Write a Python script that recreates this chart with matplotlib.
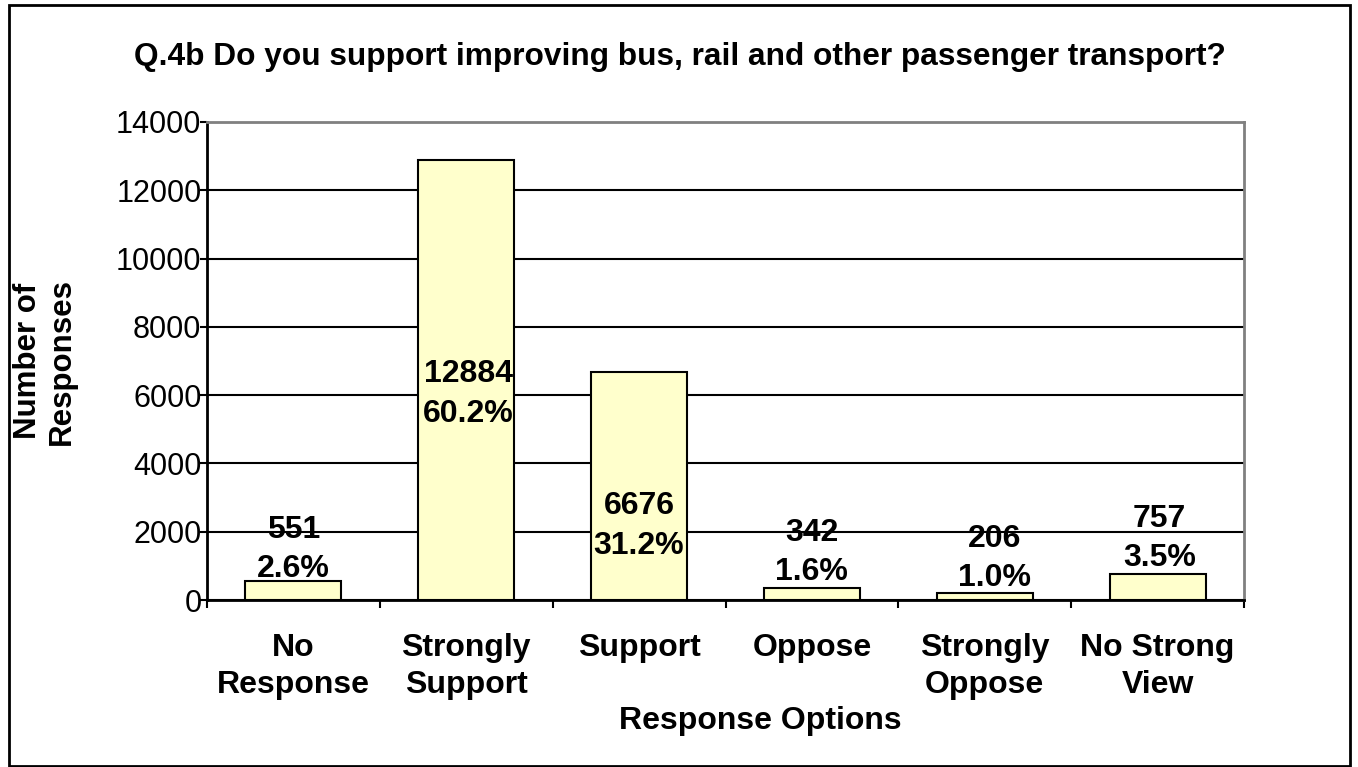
import matplotlib
matplotlib.use("Agg")
import matplotlib.pyplot as plt
from matplotlib.patches import Rectangle
from matplotlib.ticker import FixedLocator, MultipleLocator

plt.rcParams["font.family"] = ["Liberation Sans", "DejaVu Sans"]

TITLE = "Q.4b Do you support improving bus, rail and other passenger transport?"
categories = ["No\nResponse", "Strongly\nSupport", "Support", "Oppose",
              "Strongly\nOppose", "No Strong\nView"]
responses = [551, 12884, 6676, 342, 206, 757]
percents = ["2.6%", "60.2%", "31.2%", "1.6%", "1.0%", "3.5%"]

# label placement: (dx, dy) in pixels; inside labels hang from the bar middle
label_nudge = [(0, -3), (2, -14), (0, -40), (0, 1), (10, 0), (2, 1)]

W, H, DPI = 1358, 767, 100
fig = plt.figure(figsize=(W / DPI, H / DPI), dpi=DPI, facecolor="white")
ax = fig.add_axes([207 / W, 1 - 600 / H, (1244 - 207) / W, (600 - 122) / H])

xs = list(range(len(categories)))
ax.bar(xs, responses, width=0.556, color="#FFFFCC", edgecolor="black",
       linewidth=1.5, zorder=3)

ax.set_xlim(-0.5, len(categories) - 0.5)
ax.set_ylim(0, 14000)
ax.yaxis.set_major_locator(MultipleLocator(2000))
ax.grid(axis="y", color="black", linewidth=1.5, zorder=1)
ax.set_axisbelow(True)

for sp in ("top", "right"):
    ax.spines[sp].set_color("#808080")
    ax.spines[sp].set_linewidth(2)
for sp in ("left", "bottom"):
    ax.spines[sp].set_color("black")
    ax.spines[sp].set_linewidth(2)

ax.tick_params(axis="y", direction="out", length=5, width=1.5, pad=-1,
               labelsize=22)
ax.set_xticks(xs)
ax.set_xticklabels(categories, fontsize=23, fontweight="bold",
                   linespacing=1.3)
ax.tick_params(axis="x", which="major", length=0, pad=24)
ax.xaxis.set_minor_locator(FixedLocator([i - 0.5 for i in range(len(categories) + 1)]))
ax.tick_params(axis="x", which="minor", direction="out", length=6, width=1.5)

for i, (v, p) in enumerate(zip(responses, percents)):
    dx, dy = label_nudge[i]
    if v > 5000:
        ax.annotate(f"{v}\n{p}", (i, v / 2), xytext=(dx * 0.72, dy * 0.72),
                    textcoords="offset points", ha="center", va="center",
                    fontsize=23, fontweight="bold", linespacing=1.4, zorder=4)
    else:
        ax.annotate(f"{v}\n{p}", (i, v), xytext=(dx * 0.72, dy * 0.72),
                    textcoords="offset points", ha="center", va="bottom",
                    fontsize=23, fontweight="bold", linespacing=1.4, zorder=4)

fig.text(680 / W, 1 - 57 / H, TITLE, ha="center", va="center",
         fontsize=22.8, fontweight="bold")
fig.text(45 / W, 1 - 361 / H, "Number of\nResponses", rotation=90,
         ha="center", va="center", fontsize=22.5, fontweight="bold",
         linespacing=1.2)
fig.text(760 / W, 1 - 721 / H, "Response Options", ha="center", va="center",
         fontsize=23, fontweight="bold")

fig.patches.append(Rectangle((9 / W, 1 / H), (1350 - 9) / W, (762 - 1) / H,
                             transform=fig.transFigure, fill=False,
                             edgecolor="black", linewidth=2))

fig.savefig("out.png", dpi=DPI, facecolor="white")
